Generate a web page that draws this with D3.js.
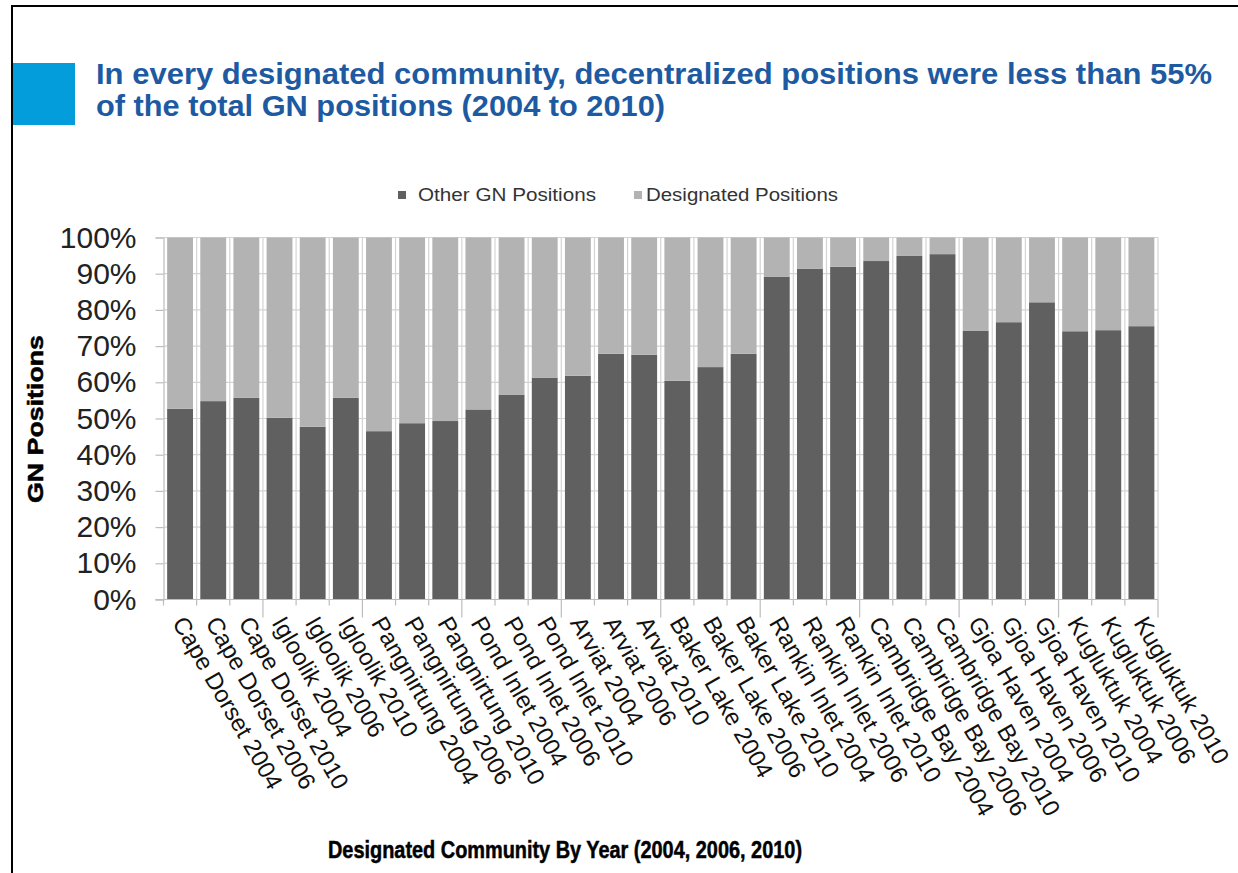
<!DOCTYPE html>
<html>
<head>
<meta charset="utf-8">
<script src="https://cdn.jsdelivr.net/npm/d3@7"></script>
<style>
  html, body { margin: 0; padding: 0; background: #fff; }
  svg { display: block; font-family: "Liberation Sans", Arial, sans-serif; }
</style>
</head>
<body>
<svg id="chart" width="1238" height="873"></svg>
<script>
// ---- data ----
const communities = ["Cape Dorset", "Igloolik", "Pangnirtung", "Pond Inlet", "Arviat",
  "Baker Lake", "Rankin Inlet", "Cambridge Bay", "Gjoa Haven", "Kugluktuk"];
const years = ["2004", "2006", "2010"];
const otherGN = [52.7, 54.8, 55.7, 50.2, 47.7, 55.7, 46.5, 48.7, 49.3, 52.5, 56.5, 61.3,
  61.8, 67.9, 67.6, 60.4, 64.2, 67.9, 89.2, 91.4, 91.9, 93.5, 94.9, 95.4,
  74.3, 76.6, 82.1, 74.1, 74.4, 75.5];
const designated = [47.3, 45.2, 44.3, 49.8, 52.3, 44.3, 53.5, 51.3, 50.7, 47.5, 43.5, 38.7,
  38.2, 32.1, 32.4, 39.6, 35.8, 32.1, 10.8, 8.6, 8.1, 6.5, 5.1, 4.6,
  25.7, 23.4, 17.9, 25.9, 25.6, 24.5];
const seriesNames = ["Other GN Positions", "Designated Positions"];
const yTicks = [0, 10, 20, 30, 40, 50, 60, 70, 80, 90, 100];
const titleLines = ["In every designated community, decentralized positions were less than 55%",
  "of the total GN positions (2004 to 2010)"];
const xTitle = "Designated Community By Year (2004, 2006, 2010)";
const yTitle = "GN Positions";

const categories = communities.flatMap(c => years.map(y => c + " " + y));
const rows = categories.map((c, i) => ({ cat: c, other: otherGN[i], desig: designated[i] }));

// ---- layout ----
const svg = d3.select("#chart");
const X0 = 163.5, X1 = 1158, YT = 237.5, YB = 599.5;
const colors = ["#606060", "#b3b3b3"];

const x = d3.scaleBand().domain(categories).range([X0, X1]).paddingInner(0.22).paddingOuter(0.11);
const y = d3.scaleLinear().domain([0, 100]).range([YB, YT]);

// frame
svg.append("path").attr("d", "M1238,6 H12 V873").attr("fill", "none").attr("stroke", "#000").attr("stroke-width", 2);

// title block
svg.append("rect").attr("x", 13).attr("y", 63).attr("width", 62).attr("height", 62).attr("fill", "#039ddc");
const tl = svg.append("g").attr("fill", "#1d5aa2").attr("font-weight", "bold").attr("font-size", 29);
tl.append("text").attr("x", 96).attr("y", 84).attr("textLength", 1116).attr("lengthAdjust", "spacingAndGlyphs").text(titleLines[0]);
tl.append("text").attr("x", 96).attr("y", 116).attr("textLength", 569).attr("lengthAdjust", "spacingAndGlyphs").text(titleLines[1]);

// legend
const legendItems = [{ sx: 398, tx: 418, len: 178 }, { sx: 634, tx: 646, len: 192 }];
legendItems.forEach((li, i) => {
  svg.append("rect").attr("x", li.sx).attr("y", 191).attr("width", 8).attr("height", 8).attr("fill", colors[i]);
  svg.append("text").attr("x", li.tx).attr("y", 201).attr("font-size", 18).attr("fill", "#333")
    .attr("textLength", li.len).attr("lengthAdjust", "spacingAndGlyphs").text(seriesNames[i]);
});

// gridlines horizontal
svg.append("g").selectAll("line").data(yTicks.slice(1)).join("line")
  .attr("x1", X0).attr("x2", X1).attr("y1", d => y(d)).attr("y2", d => y(d))
  .attr("stroke", "#d4d4d4").attr("stroke-width", 1.2);
// gridlines vertical at category boundaries
const step = x.step();
const bounds = d3.range(categories.length + 1).map(k => X0 + k * step);
svg.append("g").selectAll("line").data(bounds.slice(1)).join("line")
  .attr("x1", d => d).attr("x2", d => d).attr("y1", YT).attr("y2", YB)
  .attr("stroke", "#d4d4d4").attr("stroke-width", 1.2);

// stacked bars
const stack = d3.stack().keys(["other", "desig"]);
const stacked = stack(rows);
svg.append("g").selectAll("g").data(stacked).join("g").attr("fill", (d, i) => colors[i])
  .selectAll("rect").data(d => d).join("rect")
  .attr("x", d => x(d.data.cat)).attr("width", x.bandwidth())
  .attr("y", d => y(d[1])).attr("height", d => y(d[0]) - y(d[1]));

// y axis
const yAxis = svg.append("g").attr("transform", `translate(${X0},0)`)
  .call(d3.axisLeft(y).tickValues(yTicks).tickFormat(d => d + "%").tickSize(8).tickPadding(19));
yAxis.select(".domain").attr("stroke", "#bdbdbd").attr("stroke-width", 1.2);
yAxis.selectAll(".tick line").attr("stroke", "#bdbdbd").attr("stroke-width", 1.2);
yAxis.selectAll(".tick text").attr("font-size", 30).attr("fill", "#222")
  .attr("font-family", "'Liberation Sans', Arial, sans-serif");

// x axis line and ticks
svg.append("line").attr("x1", X0 - 8).attr("x2", X1).attr("y1", YB).attr("y2", YB)
  .attr("stroke", "#bdbdbd").attr("stroke-width", 1.2);
svg.append("g").selectAll("line").data(bounds).join("line")
  .attr("x1", d => d).attr("x2", d => d).attr("y1", YB)
  .attr("y2", (d, k) => (k > 0 && k % 3 === 0) ? YB + 18 : YB + 6)
  .attr("stroke", "#bdbdbd").attr("stroke-width", 1.2);

// x labels
svg.append("g").selectAll("text").data(categories).join("text")
  .attr("transform", d => `translate(${x(d) + x.bandwidth() / 2 - 1},${YB + 19}) rotate(60)`)
  .attr("font-size", 24).attr("fill", "#111").attr("dy", "0.35em")
  .text(d => d);

// axis titles
svg.append("text").attr("x", 328).attr("y", 858).attr("font-size", 24).attr("font-weight", "bold")
  .attr("fill", "#000").attr("stroke", "#000").attr("stroke-width", 0.5)
  .attr("textLength", 474).attr("lengthAdjust", "spacingAndGlyphs").text(xTitle);
svg.append("text").attr("transform", "translate(43,503) rotate(-90)").attr("font-size", 22)
  .attr("font-weight", "bold").attr("fill", "#000").attr("stroke", "#000").attr("stroke-width", 0.5)
  .attr("textLength", 168).attr("lengthAdjust", "spacingAndGlyphs").text(yTitle);
</script>
</body>
</html>
